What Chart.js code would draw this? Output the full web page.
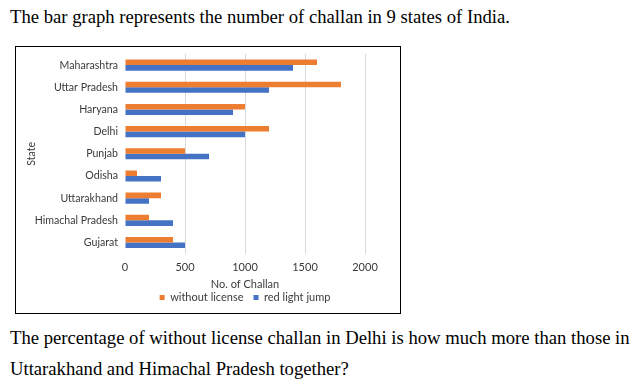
<!DOCTYPE html>
<html>
<head>
<meta charset="utf-8">
<script src="https://cdn.jsdelivr.net/npm/chart.js@4.4.1/dist/chart.umd.min.js"></script>
<style>
  body {
    margin: 0;
    width: 640px;
    height: 390px;
    position: relative;
    overflow: hidden;
    background: #fff;
    color: #000;
    font-family: "Liberation Serif", "Times New Roman", serif;
    font-size: 18.67px;
  }
  .q { position: absolute; left: 10px; white-space: nowrap; }
  #intro { top: 7px; line-height: 20px; }
  #question { top: 322px; line-height: 31px; }
  #box {
    position: absolute;
    left: 15px;
    top: 46px;
    width: 384px;
    height: 266px;
    border: 1.5px solid #000;
    font-size: 0;
  }
</style>
</head>
<body>
<div class="q" id="intro">The bar graph represents the number of challan in 9 states of India.</div>
<div id="box"><canvas id="challanChart" width="384" height="266"></canvas></div>
<div class="q" id="question">The percentage of without license challan in Delhi is how much more than those in<br>Uttarakhand and Himachal Pradesh together?</div>

<script>
const STATES = ['Maharashtra', 'Uttar Pradesh', 'Haryana', 'Delhi', 'Punjab', 'Odisha', 'Uttarakhand', 'Himachal Pradesh', 'Gujarat'];
const WITHOUT_LICENSE = [1600, 1800, 1000, 1200, 500, 100, 300, 200, 400];
const RED_LIGHT_JUMP = [1400, 1200, 900, 1000, 700, 300, 200, 400, 500];
const X_MIN = 0;
const X_MAX = 2000;
const X_STEP = 500;

const TEXT_COLOR = '#3a3a3a';
const FONT = { family: 'Lato', size: 11 };
const STATE_FONT = { family: 'Lato', size: 10.6 };

// Excel centres the legend under the plot, not under the whole box
const legendUnderPlot = {
  id: 'legendUnderPlot',
  afterLayout(chart) {
    const lg = chart.legend;
    const area = chart.chartArea;
    lg.left = area.left;
    lg.right = area.right;
    lg.width = area.right - area.left;
  }
};

new Chart(document.getElementById('challanChart'), {
  type: 'bar',
  data: {
    labels: STATES,
    datasets: [{
      label: 'without license',
      data: WITHOUT_LICENSE,
      backgroundColor: '#ED7D31',
      borderWidth: 0,
      categoryPercentage: 0.5,
      barPercentage: 1.0
    }, {
      label: 'red light jump',
      data: RED_LIGHT_JUMP,
      backgroundColor: '#4472C4',
      borderWidth: 0,
      categoryPercentage: 0.5,
      barPercentage: 1.0
    }]
  },
  options: {
    indexAxis: 'y',
    responsive: false,
    animation: false,
    devicePixelRatio: 1,
    layout: { padding: { top: 7, right: 35, bottom: 0, left: 0 } },
    plugins: {
      tooltip: { enabled: false },
      legend: {
        position: 'bottom',
        labels: {
          color: TEXT_COLOR,
          font: FONT,
          boxWidth: 5,
          boxHeight: 5,
          padding: 10
        }
      }
    },
    scales: {
      x: {
        min: X_MIN,
        max: X_MAX,
        ticks: {
          stepSize: X_STEP,
          color: TEXT_COLOR,
          font: FONT,
          padding: 7.5,
          maxRotation: 0,
          callback: v => String(v)
        },
        grid: {
          drawTicks: false,
          color: ctx => (ctx.tick && ctx.tick.value === 0 ? 'rgba(0,0,0,0)' : '#d9d9d9')
        },
        border: { display: false },
        title: {
          display: true,
          text: 'No. of Challan',
          color: TEXT_COLOR,
          font: FONT,
          padding: { top: -3.5, bottom: -9.5 }
        }
      },
      y: {
        ticks: { color: TEXT_COLOR, font: STATE_FONT, padding: 7 },
        grid: { display: false, drawTicks: false },
        border: { display: false },
        title: {
          display: true,
          text: 'State',
          color: TEXT_COLOR,
          font: STATE_FONT,
          padding: { top: 9, bottom: 0 }
        },
        afterFit(scale) {
          scale.width = 109;
          scale.paddingTop = 0;
          scale.paddingBottom = 0;
        }
      }
    }
  },
  plugins: [legendUnderPlot]
});
</script>
</body>
</html>
